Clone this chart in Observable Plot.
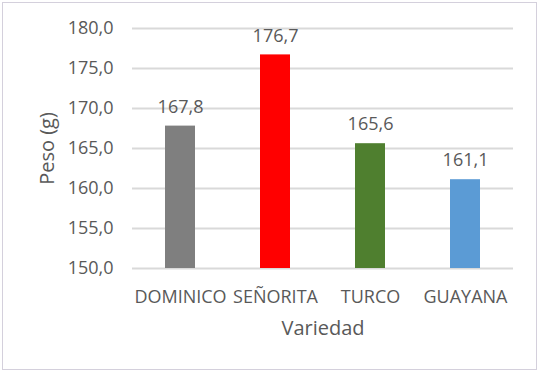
<!DOCTYPE html>
<html>
<head>
<meta charset="utf-8">
<script src="https://cdn.jsdelivr.net/npm/d3@7"></script>
<script src="https://cdn.jsdelivr.net/npm/@observablehq/plot@0.6"></script>
<style>
  html, body { margin: 0; padding: 0; background: #fff; }
  #chart { position: relative; width: 541px; height: 373px; }
  #chart svg { display: block; }
  #frame { position: absolute; left: 2px; top: 2px; width: 533px; height: 366px; border: 1.5px solid #d4d0dc; pointer-events: none; }
</style>
</head>
<body>
<div id="chart"><div id="frame"></div></div>
<script>
const categories = ["DOMINICO", "SEÑORITA", "TURCO", "GUAYANA"];
const values = [167.8, 176.7, 165.6, 161.1];
const colors = ["#7f7f7f", "#ff0000", "#4f7f2f", "#5b9bd5"];
const yTicks = [150, 155, 160, 165, 170, 175, 180];

const data = categories.map((c, i) => ({ cat: c, val: values[i], color: colors[i] }));
const fmt = v => d3.format(".1f")(v).replace(".", ",");
const textColor = "#595959";
const font = "Open Sans, sans-serif";

const chart = Plot.plot({
  width: 541,
  height: 373,
  marginLeft: 132,
  marginRight: 28,
  marginTop: 28,
  marginBottom: 105,
  style: { fontFamily: font, fontSize: "18px", color: textColor, background: "transparent" },
  x: { domain: categories, paddingInner: 0.685, paddingOuter: 0.3425, label: null },
  y: { domain: [150, 180], label: null },
  marks: [
    Plot.ruleY(yTicks, { stroke: "#d9d9d9", strokeWidth: 2 }),
    Plot.barY(data, { x: "cat", y1: 150, y2: "val", fill: "color" }),
    Plot.text(data, { x: "cat", y: "val", text: d => fmt(d.val), dy: -19, fill: textColor, fontSize: 18 }),
    Plot.axisY(yTicks, { tickSize: 0, tickPadding: 19, tickFormat: fmt, fontSize: 18, label: null, color: textColor }),
    Plot.axisX({ tickSize: 0, tickPadding: 22, fontSize: 18, label: null, color: textColor }),
    Plot.text(["Peso (g)"], { frameAnchor: "left", dx: -85, rotate: -90, textAnchor: "middle", lineAnchor: "middle", fontSize: 20, fill: textColor }),
    Plot.text(["Variedad"], { frameAnchor: "bottom", dy: 66, textAnchor: "middle", fontSize: 20, fill: textColor })
  ]
});
document.getElementById("chart").prepend(chart);
</script>
</body>
</html>
